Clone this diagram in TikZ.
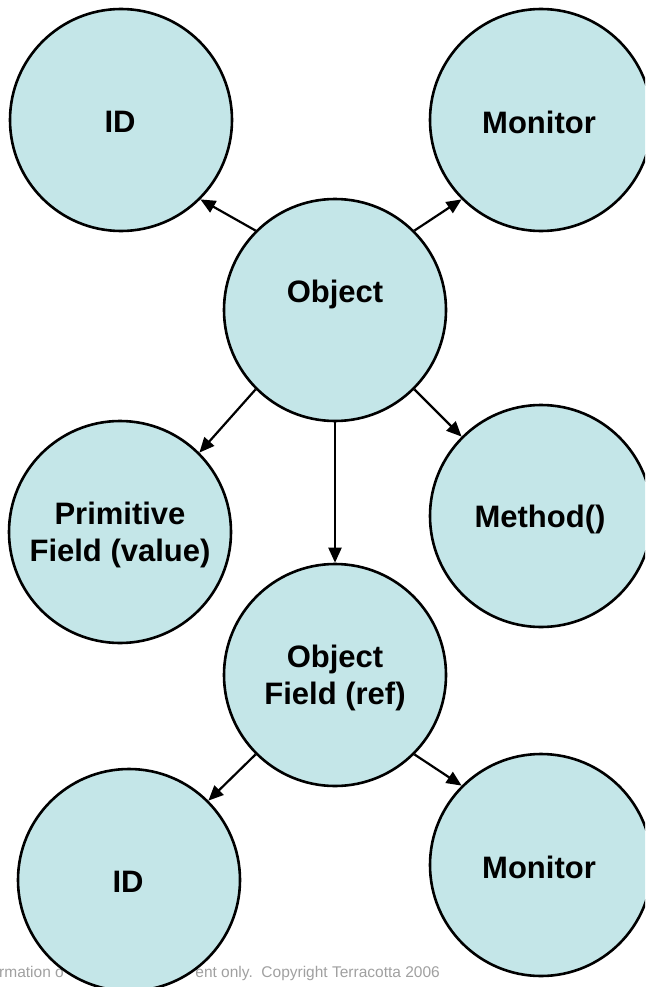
\documentclass[tikz,border=0pt]{standalone}
\usepackage{fontspec}
\setmainfont{Liberation Sans}
\usetikzlibrary{arrows.meta}

\definecolor{bubble}{HTML}{C4E6E8}
\definecolor{footgray}{HTML}{A0A0A0}

\begin{document}
\begin{tikzpicture}[x=1pt,y=-1pt,
  bubble/.style={circle, draw=black, line width=2.6pt, fill=bubble,
    minimum size=222pt, inner sep=0pt, align=center,
    font=\fontsize{31}{37}\selectfont\bfseries},
  label text/.style={font=\fontsize{31}{37}\selectfont\bfseries, align=center},
  link/.style={line width=2.2pt, -{Triangle[length=15pt,width=13pt]}},
  foot/.style={text=footgray, font=\fontsize{15.5}{18}\selectfont, inner sep=0pt}
]
\useasboundingbox (0,0) rectangle (645,987);
\clip (0,0) rectangle (645,987);

% footer line, partly hidden behind the lower ID bubble
\node[foot, anchor=base west] (footL) at (-1,977) {rmation o};
\node[foot, anchor=base east] (footR) at (440,977) {ent only.\ \ Copyright Terracotta 2006};

% bubbles
\node[bubble] (id1)  at (121,120) {};
\node[bubble] (mon1) at (541,120) {};
\node[bubble] (obj)  at (335,310) {};
\node[bubble] (prim) at (120,532) {};
\node[bubble] (meth) at (541,516) {};
\node[bubble] (ofld) at (335,675) {};
\node[bubble] (id2)  at (129,880) {};
\node[bubble] (mon2) at (541,865) {};

% bubble captions
\node[label text] (id1t)  at (120,122) {ID};
\node[label text] (mon1t) at (539,122) {Monitor};
\node[label text] (objt)  at (335,294) {Object};
\node[label text] (primt) at (120,535) {Primitive\\Field (value)};
\node[label text] (metht) at (540,519) {Method()};
\node[label text] (ofldt) at (335,678) {Object\\Field (ref)};
\node[label text] (id2t)  at (128,882) {ID};
\node[label text] (mon2t) at (539,867) {Monitor};

% references
\draw[link] (obj.135) -- (id1.-45);
\draw[link] (obj.45)  -- (mon1.225);
\draw[link] (obj.225) -- (prim.45);
\draw[link] (obj.-45) -- (meth.135);
\draw[link] (obj.south) -- (ofld.north);
\draw[link] (ofld.225) -- (id2.45);
\draw[link] (ofld.-45) -- (mon2.135);
\end{tikzpicture}
\end{document}
